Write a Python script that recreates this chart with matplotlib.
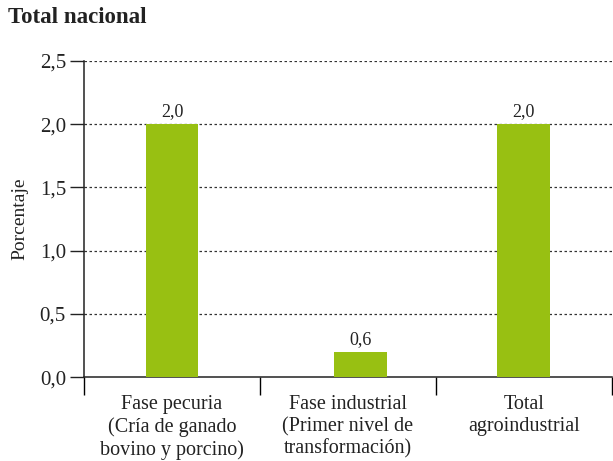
import matplotlib.pyplot as plt
import numpy as np

# data
categories = ['Fase pecuria\n(Cría de ganado\nbovino y porcino)',
              'Fase industrial\n(Primer nivel de\ntransformación)',
              'Total\nagroindustrial']
bar_heights = [2.0, 0.2, 2.0]
bar_labels = ['2,0', '0,6', '2,0']
yticks = [0.0, 0.5, 1.0, 1.5, 2.0, 2.5]
ytick_labels = ['0,0', '0,5', '1,0', '1,5', '2,0', '2,5']

plt.rcParams['font.family'] = ['Liberation Serif', 'DejaVu Serif']

fig = plt.figure(figsize=(6.13, 4.61), dpi=100)
ax = fig.add_axes([0.137, 0.182, 0.861, 0.686])

xpos = [0, 1.07, 2]
color = '#98c012'
ax.bar(xpos, bar_heights, width=0.3, color=color, zorder=3)
for x, h, lab in zip(xpos, bar_heights, bar_labels):
    ax.text(x, h + 0.03, lab, ha='center', va='bottom', fontsize=13, color='#222222')

ax.set_xlim(-0.5, 2.5)
ax.set_ylim(0, 2.5)

# dotted grid lines
for y in yticks[1:]:
    ax.axhline(y, color='#333333', linestyle=(0, (2, 2)), linewidth=0.9, zorder=1)

ax.set_yticks(yticks)
ax.set_yticklabels(ytick_labels, fontsize=15)
ax.tick_params(axis='y', length=10, width=1, pad=3, colors='#222222')

# separators between categories as major ticks, labels as minor ticks
ax.set_xticks([-0.5, 0.5, 1.5, 2.5])
ax.set_xticklabels([])
ax.tick_params(axis='x', which='major', length=13, width=1, direction='out')
ax.set_xticks([0, 1, 2], minor=True)
ax.set_xticklabels(categories, minor=True, fontsize=14.5, linespacing=1.2)
ax.tick_params(axis='x', which='minor', length=0, pad=13, colors='#222222')

for s in ['top', 'right']:
    ax.spines[s].set_visible(False)
for s in ['left', 'bottom']:
    ax.spines[s].set_linewidth(1.1)
    ax.spines[s].set_color('#222222')

ax.set_ylabel('Porcentaje', fontsize=14, labelpad=8, color='#222222')

fig.text(0.013, 0.962, 'Total nacional', fontsize=16.5, fontweight='bold',
         va='center', ha='left', color='#222222')

fig.savefig('out.png', dpi=100)
